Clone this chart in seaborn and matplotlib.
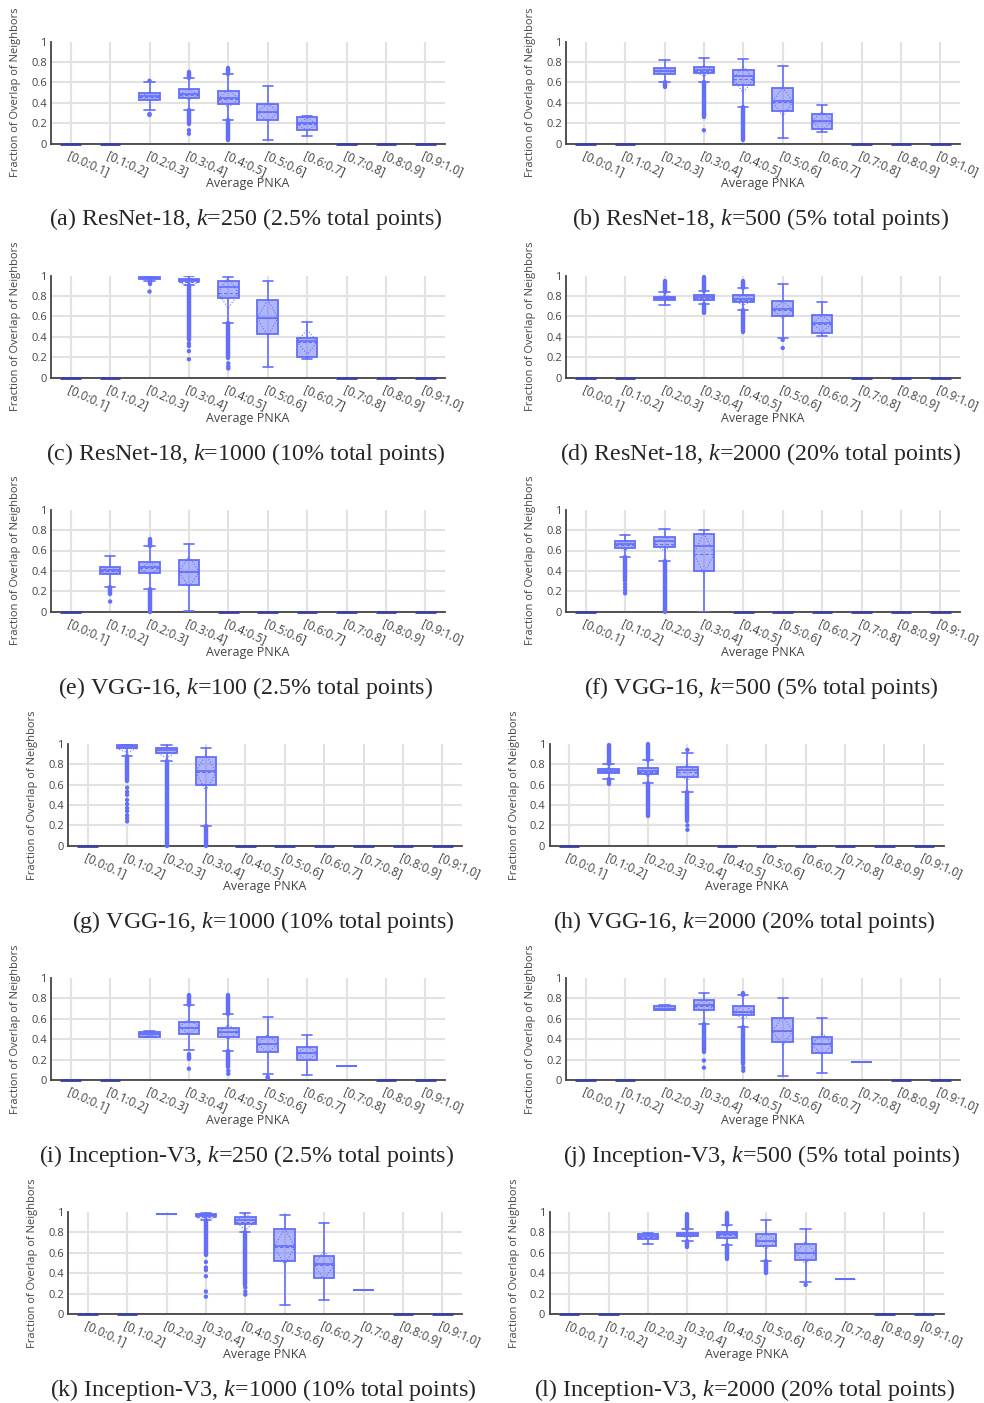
import matplotlib
matplotlib.use("Agg")
import matplotlib.pyplot as plt
import seaborn as sns
import pandas as pd

bins = ["[0.0:0.1]", "[0.1:0.2]", "[0.2:0.3]", "[0.3:0.4]", "[0.4:0.5]",
        "[0.5:0.6]", "[0.6:0.7]", "[0.7:0.8]", "[0.8:0.9]", "[0.9:1.0]"]
panels = list("abcdefghijkl")
captions = [
    "(a) ResNet-18, $k$=250 (2.5% total points)",
    "(b) ResNet-18, $k$=500 (5% total points)",
    "(c) ResNet-18, $k$=1000 (10% total points)",
    "(d) ResNet-18, $k$=2000 (20% total points)",
    "(e) VGG-16, $k$=100 (2.5% total points)",
    "(f) VGG-16, $k$=500 (5% total points)",
    "(g) VGG-16, $k$=1000 (10% total points)",
    "(h) VGG-16, $k$=2000 (20% total points)",
    "(i) Inception-V3, $k$=250 (2.5% total points)",
    "(j) Inception-V3, $k$=500 (5% total points)",
    "(k) Inception-V3, $k$=1000 (10% total points)",
    "(l) Inception-V3, $k$=2000 (20% total points)",
]

# box statistics per panel (rows a..l), per PNKA bin (columns)
q1 = [
    [0, 0, 0.43, 0.45, 0.39, 0.234, 0.135, 0, 0, 0],
    [0, 0, 0.685, 0.69, 0.57, 0.318, 0.14, 0, 0, 0],
    [0, 0, 0.968, 0.945, 0.782, 0.428, 0.20, 0, 0, 0],
    [0, 0, 0.762, 0.765, 0.74, 0.606, 0.436, 0, 0, 0],
    [0, 0.365, 0.38, 0.26, 0, 0, 0, 0, 0, 0],
    [0, 0.624, 0.637, 0.40, 0, 0, 0, 0, 0, 0],
    [0, 0.96, 0.91, 0.60, 0, 0, 0, 0, 0, 0],
    [0, 0.716, 0.70, 0.67, 0, 0, 0, 0, 0, 0],
    [0, 0, 0.42, 0.454, 0.42, 0.275, 0.20, 0.14, 0, 0],
    [0, 0, 0.683, 0.686, 0.637, 0.373, 0.268, 0.176, 0, 0],
    [0, 0, 0.977, 0.96, 0.886, 0.515, 0.355, 0.231, 0, 0],
    [0, 0, 0.734, 0.76, 0.75, 0.67, 0.53, 0.34, 0, 0],
]
med = [
    [0, 0, 0.465, 0.49, 0.45, 0.31, 0.20, 0, 0, 0],
    [0, 0, 0.715, 0.725, 0.66, 0.42, 0.22, 0, 0, 0],
    [0, 0, 0.977, 0.958, 0.89, 0.585, 0.36, 0, 0, 0],
    [0, 0, 0.78, 0.79, 0.772, 0.675, 0.537, 0, 0, 0],
    [0, 0.405, 0.435, 0.39, 0, 0, 0, 0, 0, 0],
    [0, 0.663, 0.69, 0.647, 0, 0, 0, 0, 0, 0],
    [0, 0.974, 0.94, 0.73, 0, 0, 0, 0, 0, 0],
    [0, 0.735, 0.735, 0.74, 0, 0, 0, 0, 0, 0],
    [0, 0, 0.45, 0.505, 0.47, 0.35, 0.265, 0.14, 0, 0],
    [0, 0, 0.70, 0.73, 0.67, 0.484, 0.353, 0.176, 0, 0],
    [0, 0, 0.977, 0.974, 0.925, 0.664, 0.495, 0.231, 0, 0],
    [0, 0, 0.76, 0.776, 0.78, 0.72, 0.60, 0.34, 0, 0],
]
q3 = [
    [0, 0, 0.50, 0.53, 0.51, 0.383, 0.257, 0, 0, 0],
    [0, 0, 0.74, 0.754, 0.725, 0.54, 0.29, 0, 0, 0],
    [0, 0, 0.984, 0.97, 0.945, 0.76, 0.393, 0, 0, 0],
    [0, 0, 0.795, 0.805, 0.805, 0.75, 0.615, 0, 0, 0],
    [0, 0.443, 0.49, 0.505, 0, 0, 0, 0, 0, 0],
    [0, 0.69, 0.735, 0.76, 0, 0, 0, 0, 0, 0],
    [0, 0.984, 0.96, 0.87, 0, 0, 0, 0, 0, 0],
    [0, 0.75, 0.76, 0.768, 0, 0, 0, 0, 0, 0],
    [0, 0, 0.474, 0.565, 0.51, 0.425, 0.325, 0.14, 0, 0],
    [0, 0, 0.722, 0.784, 0.72, 0.605, 0.42, 0.176, 0, 0],
    [0, 0, 0.977, 0.984, 0.951, 0.83, 0.573, 0.231, 0, 0],
    [0, 0, 0.78, 0.79, 0.805, 0.78, 0.688, 0.34, 0, 0],
]
whislo = [
    [0, 0, 0.327, 0.333, 0.228, 0.036, 0.07, 0, 0, 0],
    [0, 0, 0.607, 0.607, 0.354, 0.056, 0.108, 0, 0, 0],
    [0, 0, 0.945, 0.91, 0.54, 0.104, 0.18, 0, 0, 0],
    [0, 0, 0.713, 0.726, 0.658, 0.39, 0.407, 0, 0, 0],
    [0, 0.24, 0.225, 0.007, 0, 0, 0, 0, 0, 0],
    [0, 0.533, 0.497, 0.0, 0, 0, 0, 0, 0, 0],
    [0, 0.876, 0.83, 0.195, 0, 0, 0, 0, 0, 0],
    [0, 0.657, 0.614, 0.526, 0, 0, 0, 0, 0, 0],
    [0, 0, 0.42, 0.297, 0.288, 0.06, 0.052, 0.14, 0, 0],
    [0, 0, 0.683, 0.552, 0.516, 0.04, 0.072, 0.176, 0, 0],
    [0, 0, 0.977, 0.918, 0.80, 0.085, 0.134, 0.231, 0, 0],
    [0, 0, 0.69, 0.72, 0.68, 0.52, 0.315, 0.34, 0, 0],
]
whishi = [
    [0, 0, 0.60, 0.64, 0.68, 0.564, 0.274, 0, 0, 0],
    [0, 0, 0.816, 0.836, 0.83, 0.757, 0.374, 0, 0, 0],
    [0, 0, 0.99, 1.0, 0.99, 0.945, 0.55, 0, 0, 0],
    [0, 0, 0.837, 0.85, 0.88, 0.915, 0.74, 0, 0, 0],
    [0, 0.547, 0.64, 0.66, 0, 0, 0, 0, 0, 0],
    [0, 0.75, 0.814, 0.80, 0, 0, 0, 0, 0, 0],
    [0, 0.99, 0.99, 0.96, 0, 0, 0, 0, 0, 0],
    [0, 0.80, 0.846, 0.908, 0, 0, 0, 0, 0, 0],
    [0, 0, 0.48, 0.73, 0.647, 0.62, 0.44, 0.14, 0, 0],
    [0, 0, 0.735, 0.856, 0.837, 0.80, 0.608, 0.176, 0, 0],
    [0, 0, 0.977, 0.993, 0.993, 0.974, 0.896, 0.231, 0, 0],
    [0, 0, 0.79, 0.834, 0.87, 0.925, 0.834, 0.34, 0, 0],
]
means = [
    [0, 0, 0.46, 0.48, 0.44, 0.305, 0.19, 0, 0, 0],
    [0, 0, 0.71, 0.71, 0.63, 0.41, 0.22, 0, 0, 0],
    [0, 0, 0.975, 0.94, 0.83, 0.585, 0.35, 0, 0, 0],
    [0, 0, 0.78, 0.785, 0.76, 0.665, 0.53, 0, 0, 0],
    [0, 0.40, 0.425, 0.39, 0, 0, 0, 0, 0, 0],
    [0, 0.65, 0.665, 0.57, 0, 0, 0, 0, 0, 0],
    [0, 0.955, 0.92, 0.72, 0, 0, 0, 0, 0, 0],
    [0, 0.735, 0.725, 0.72, 0, 0, 0, 0, 0, 0],
    [0, 0, 0.45, 0.52, 0.47, 0.355, 0.26, 0.14, 0, 0],
    [0, 0, 0.70, 0.725, 0.665, 0.48, 0.35, 0.176, 0, 0],
    [0, 0, 0.977, 0.955, 0.905, 0.66, 0.48, 0.231, 0, 0],
    [0, 0, 0.755, 0.775, 0.77, 0.715, 0.60, 0.34, 0, 0],
]
sds = [
    [0, 0, 0.04, 0.05, 0.09, 0.09, 0.06, 0, 0, 0],
    [0, 0, 0.03, 0.05, 0.13, 0.14, 0.09, 0, 0, 0],
    [0, 0, 0.015, 0.05, 0.15, 0.18, 0.12, 0, 0, 0],
    [0, 0, 0.03, 0.03, 0.05, 0.08, 0.08, 0, 0, 0],
    [0, 0.04, 0.06, 0.15, 0, 0, 0, 0, 0, 0],
    [0, 0.05, 0.07, 0.20, 0, 0, 0, 0, 0, 0],
    [0, 0.04, 0.06, 0.18, 0, 0, 0, 0, 0, 0],
    [0, 0.03, 0.045, 0.08, 0, 0, 0, 0, 0, 0],
    [0, 0, 0.015, 0.07, 0.07, 0.09, 0.07, 0, 0, 0],
    [0, 0, 0.015, 0.06, 0.07, 0.14, 0.11, 0, 0, 0],
    [0, 0, 0, 0.04, 0.08, 0.18, 0.14, 0, 0, 0],
    [0, 0, 0.02, 0.03, 0.04, 0.08, 0.11, 0, 0, 0],
]

# dense runs of outliers: (panel, bin, low, high)
outlier_runs = [
    ("a", 3, 0.64, 0.70), ("a", 3, 0.195, 0.333), ("a", 4, 0.68, 0.745), ("a", 4, 0.03, 0.228),
    ("b", 2, 0.55, 0.607), ("b", 3, 0.26, 0.607), ("b", 4, 0.03, 0.354),
    ("c", 2, 0.92, 0.945), ("c", 3, 0.37, 0.91), ("c", 4, 0.19, 0.54),
    ("d", 2, 0.837, 0.95), ("d", 3, 0.85, 0.99), ("d", 3, 0.635, 0.726),
    ("d", 4, 0.88, 0.95), ("d", 4, 0.446, 0.658),
    ("e", 1, 0.17, 0.24), ("e", 2, 0.64, 0.71), ("e", 2, 0.0, 0.225),
    ("f", 1, 0.30, 0.533), ("f", 2, 0.0, 0.497),
    ("g", 1, 0.64, 0.876), ("g", 2, 0.0, 0.83), ("g", 3, 0.0, 0.195),
    ("h", 1, 0.80, 0.99), ("h", 1, 0.61, 0.657), ("h", 2, 0.846, 0.997),
    ("h", 2, 0.29, 0.614), ("h", 3, 0.24, 0.526),
    ("i", 3, 0.73, 0.83), ("i", 3, 0.206, 0.255), ("i", 4, 0.647, 0.83), ("i", 4, 0.124, 0.288),
    ("j", 3, 0.27, 0.552), ("j", 4, 0.837, 0.856), ("j", 4, 0.157, 0.516),
    ("k", 3, 0.577, 0.918), ("k", 4, 0.28, 0.80),
    ("l", 3, 0.834, 0.98), ("l", 3, 0.656, 0.72), ("l", 4, 0.87, 0.99),
    ("l", 4, 0.536, 0.68), ("l", 5, 0.40, 0.52),
]
# isolated outliers: (panel, bin, value)
outlier_pts = [
    ("a", 2, 0.615), ("a", 2, 0.29), ("a", 2, 0.28), ("a", 3, 0.13), ("a", 3, 0.096),
    ("b", 3, 0.13),
    ("c", 2, 0.844), ("c", 3, 0.334), ("c", 3, 0.31), ("c", 3, 0.26), ("c", 3, 0.18),
    ("c", 4, 0.14), ("c", 4, 0.11), ("c", 4, 0.09),
    ("d", 5, 0.37), ("d", 5, 0.29),
    ("e", 1, 0.10),
    ("f", 1, 0.27), ("f", 1, 0.24), ("f", 1, 0.21), ("f", 1, 0.18),
    ("g", 1, 0.57), ("g", 1, 0.53), ("g", 1, 0.50), ("g", 1, 0.45), ("g", 1, 0.41),
    ("g", 1, 0.37), ("g", 1, 0.34), ("g", 1, 0.30), ("g", 1, 0.27), ("g", 1, 0.24),
    ("h", 3, 0.94), ("h", 3, 0.20), ("h", 3, 0.157),
    ("i", 3, 0.11), ("i", 4, 0.09), ("i", 4, 0.06), ("i", 5, 0.03), ("i", 5, 0.02),
    ("j", 3, 0.19), ("j", 3, 0.12), ("j", 4, 0.12), ("j", 4, 0.09),
    ("k", 3, 0.51), ("k", 3, 0.456), ("k", 3, 0.43), ("k", 3, 0.37), ("k", 3, 0.22),
    ("k", 3, 0.17), ("k", 4, 0.26), ("k", 4, 0.22), ("k", 4, 0.19),
    ("l", 6, 0.286),
]

sns.set_theme(style="whitegrid")
plt.rcParams["font.family"] = ["Open Sans", "DejaVu Sans"]
plt.rcParams["mathtext.fontset"] = "custom"
plt.rcParams["mathtext.it"] = "Liberation Serif:italic"
plt.rcParams["mathtext.rm"] = "Liberation Serif"

BLUE = "#636EFA"
FILL = (0.388, 0.431, 0.98, 0.5)
GREY = "#444444"
W, H = 984, 1403
lefts = [51, 566, 51, 566, 51, 566, 68, 549.5, 51, 566, 68, 549.5]
AW, AH = 394, 102

fig = plt.figure(figsize=(W / 100, H / 100), dpi=100)
runs = pd.DataFrame(outlier_runs, columns=["panel", "bin", "lo", "hi"])
pts = pd.DataFrame(outlier_pts, columns=["panel", "bin", "value"])

for i, p in enumerate(panels):
    r = i // 2
    top = 41.5 + 234.1 * r
    ax = fig.add_axes([lefts[i] / W, 1 - (top + AH) / H, AW / W, AH / H])

    stats = [dict(q1=q1[i][c], med=med[i][c], q3=q3[i][c], whislo=whislo[i][c],
                  whishi=whishi[i][c], mean=means[i][c], fliers=[]) for c in range(10)]
    ax.bxp(stats, positions=range(10), widths=0.52, capwidths=0.26, patch_artist=True,
           showmeans=True, meanline=True, showfliers=False, manage_ticks=False, zorder=3,
           boxprops=dict(facecolor=FILL, edgecolor=BLUE, linewidth=1.3),
           whiskerprops=dict(color=BLUE, linewidth=1.2),
           capprops=dict(color=BLUE, linewidth=1.2),
           medianprops=dict(color=BLUE, linewidth=1.2),
           meanprops=dict(color=BLUE, linestyle=(0, (3, 2)), linewidth=0.8))

    # empty bins sit on the axis line and look darker there
    for c in range(10):
        if q3[i][c] == 0:
            ax.plot([c - 0.26, c + 0.26], [0, 0], color="#3a3f9a", linewidth=2,
                    solid_capstyle="butt", zorder=4, clip_on=False)

    # mean +/- sd diamonds
    for c in range(10):
        m, s = means[i][c], sds[i][c]
        if s > 0:
            ax.plot([c, c + 0.26, c, c - 0.26, c], [m + s, m, m - s, m, m + s],
                    color=BLUE, linestyle=":", linewidth=0.8, clip_on=False, zorder=3)

    rr = runs[runs.panel == p]
    ax.vlines(rr["bin"], rr["lo"], rr["hi"], color=BLUE, linewidth=3.2,
              capstyle="round", clip_on=False, zorder=3)
    pp = pts[pts.panel == p]
    if len(pp):
        sns.scatterplot(data=pp, x="bin", y="value", ax=ax, color=BLUE, s=10,
                        edgecolor="none", legend=False, clip_on=False, zorder=3)

    ax.set_xlim(-0.5, 9.5)
    ax.set_ylim(0, 1)
    ax.set_xticks(range(10))
    ax.set_xticklabels(bins, rotation=-24, ha="left", va="top",
                       rotation_mode="anchor", fontsize=8.4, color=GREY)
    ax.set_yticks([0, 0.2, 0.4, 0.6, 0.8, 1])
    ax.set_yticklabels(["0", "0.2", "0.4", "0.6", "0.8", "1"], fontsize=8, color=GREY)
    ax.tick_params(length=0, pad=3)
    ax.tick_params(axis="x", pad=4)
    ax.grid(True, color="#e2e2e2", linewidth=1.5)
    ax.yaxis.get_gridlines()[-1].set_visible(False)
    ax.set_axisbelow(True)
    for side in ["top", "right"]:
        ax.spines[side].set_visible(False)
    for side in ["left", "bottom"]:
        ax.spines[side].set_color(GREY)
        ax.spines[side].set_linewidth(1.3)

    ax.set_xlabel("Average PNKA", fontsize=9, color=GREY)
    ax.xaxis.set_label_coords(0.5, -34 / AH)
    ax.set_ylabel("Fraction of Overlap of Neighbors", fontsize=8, color=GREY)
    ax.yaxis.set_label_coords(-30 / AW, 0.5)

    cx = (lefts[i] + AW / 2 - 2) / W
    cy = 1 - (top + AH + 76) / H
    fig.text(cx, cy, captions[i], ha="center", va="center", fontsize=17.3,
             family="Liberation Serif")

fig.savefig("out.png", dpi=100)
